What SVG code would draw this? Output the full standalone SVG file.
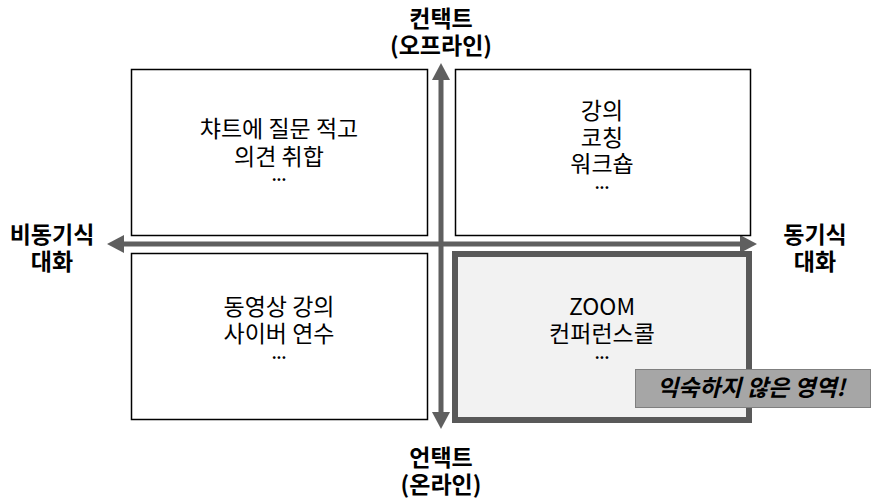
<svg xmlns="http://www.w3.org/2000/svg" width="873" height="499" viewBox="0 0 873 499">
<defs>
<style>
text{font-family:"Noto Sans CJK KR","Noto Sans",sans-serif;text-anchor:middle;fill:#000}
.t{font-size:23px}
.d{font-size:15px;font-weight:bold}
.a{font-size:23px;font-weight:bold}
.box{fill:#fff;stroke:#000;stroke-width:1.5}
.ax{stroke:#5f5f5f;stroke-width:5;fill:none}
.hd{fill:#5f5f5f}
</style>
</defs>
<rect width="873" height="499" fill="#fff"/>
<g id="connectors">
<line class="ax" x1="441" y1="78" x2="441" y2="415"/>
<polygon class="hd" points="441,63 432,80 450,80"/>
<polygon class="hd" points="441,429 432,412 450,412"/>
<line class="ax" x1="122" y1="244" x2="742" y2="244"/>
<polygon class="hd" points="107,244 124,235 124,253"/>
<polygon class="hd" points="757,244 740,235 740,253"/>
</g>
<g id="node-tl">
<rect class="box" x="131.5" y="69.5" width="296" height="166"/>
<text class="t" x="279" y="137">챠트에 질문 적고</text>
<text class="t" x="279" y="165">의견 취합</text>
<text class="d" x="279" y="181">...</text>
</g>
<g id="node-tr">
<rect class="box" x="455.5" y="69.5" width="295" height="166"/>
<text class="t" x="602" y="119">강의</text>
<text class="t" x="602" y="146">코칭</text>
<text class="t" x="602" y="172">워크숍</text>
<text class="d" x="602" y="189">...</text>
</g>
<g id="node-bl">
<rect class="box" x="131.5" y="253.5" width="296" height="166"/>
<text class="t" x="279" y="315">동영상 강의</text>
<text class="t" x="279" y="342">사이버 연수</text>
<text class="d" x="279" y="359">...</text>
</g>
<g id="node-br">
<rect x="455" y="254" width="294" height="166" fill="#f2f2f2" stroke="#595959" stroke-width="6"/>
<text class="t" x="602" y="315">ZOOM</text>
<text class="t" x="602" y="342">컨퍼런스콜</text>
<text class="d" x="602" y="359">...</text>
</g>
<g id="node-note">
<rect x="635.5" y="369.5" width="235" height="38" fill="#a6a6a6" stroke="#7f7f7f" stroke-width="1"/>
<text x="751" y="396" style="font-size:23px;font-weight:bold;font-style:italic">익숙하지 않은 영역!</text>
</g>
<g id="label-top">
<text class="a" x="441" y="27">컨택트</text>
<text class="a" x="441" y="54">(오프라인)</text>
</g>
<g id="label-left">
<text class="a" x="52" y="243">비동기식</text>
<text class="a" x="52" y="270">대화</text>
</g>
<g id="label-right">
<text class="a" x="815" y="243">동기식</text>
<text class="a" x="815" y="270">대화</text>
</g>
<g id="label-bottom">
<text class="a" x="441" y="466">언택트</text>
<text class="a" x="441" y="493">(온라인)</text>
</g>
</svg>
